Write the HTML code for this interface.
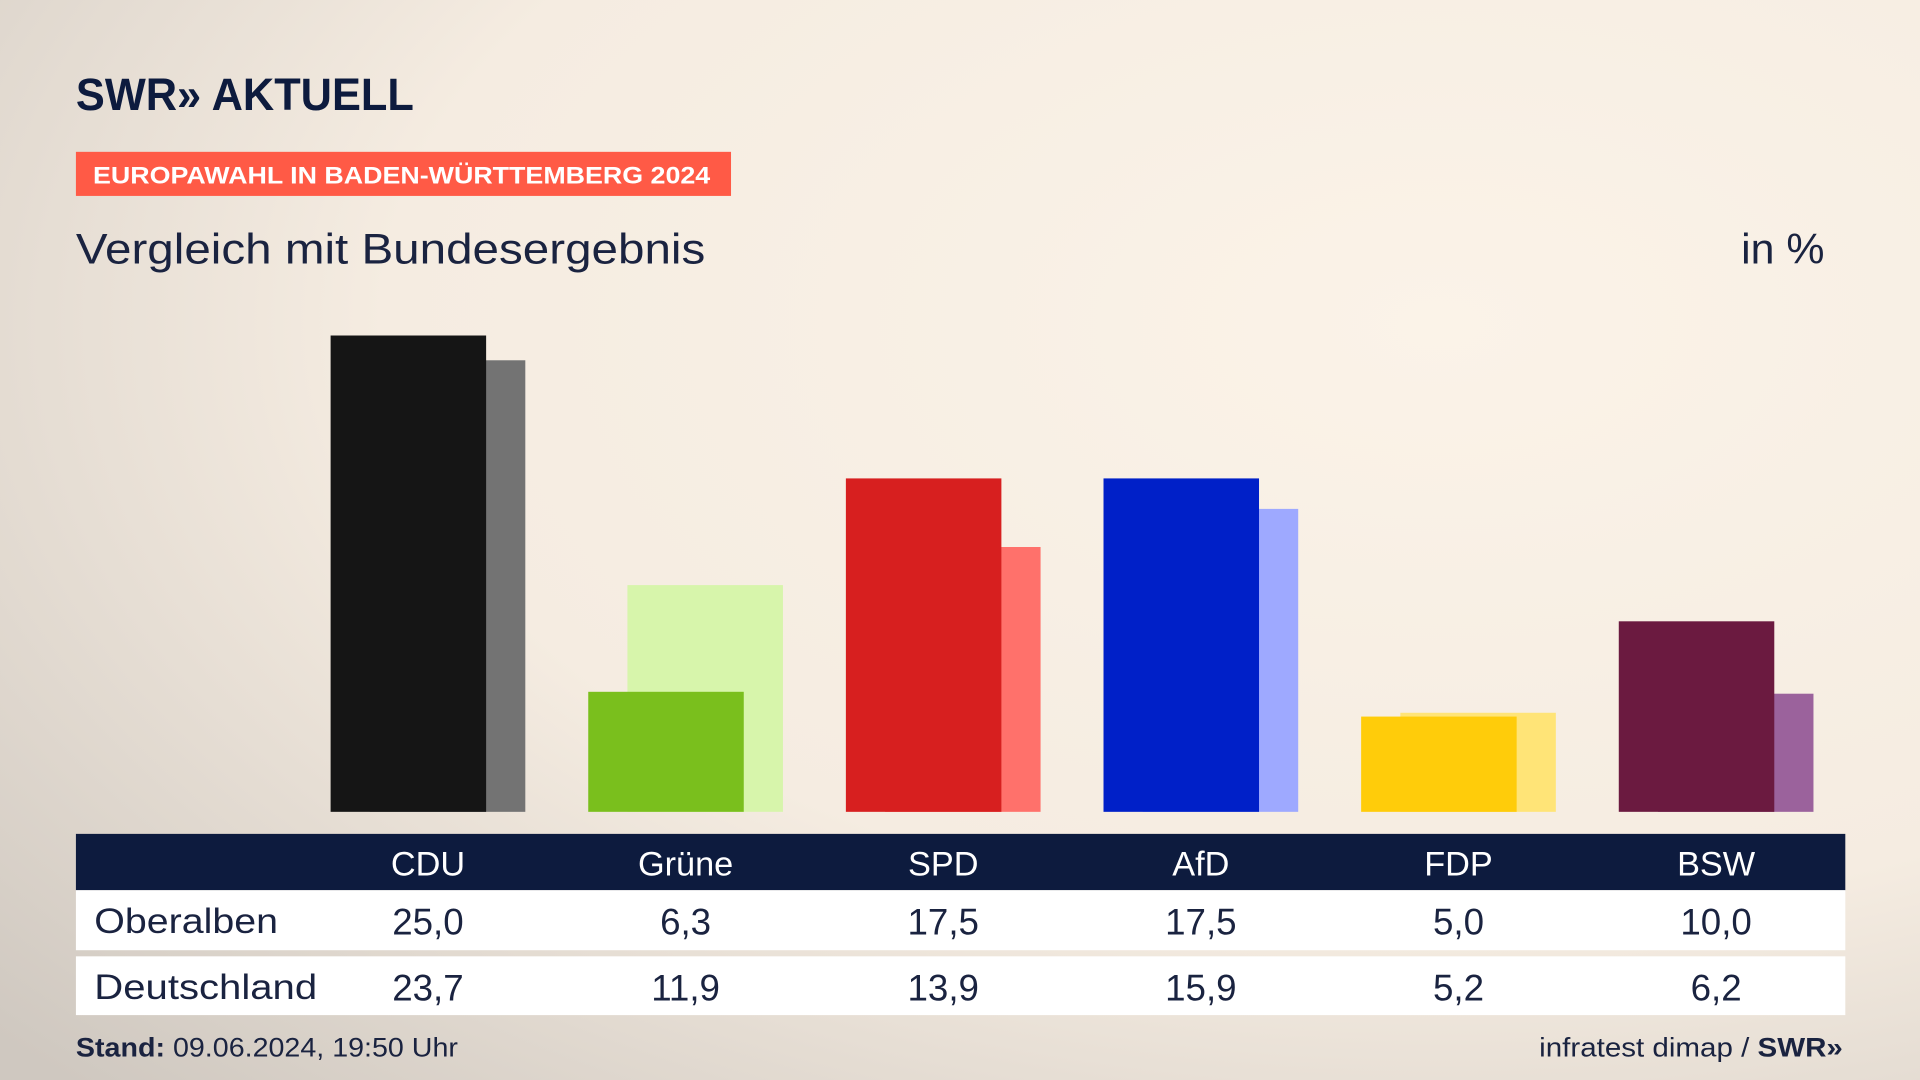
<!DOCTYPE html>
<html><head><meta charset="utf-8"><style>
html,body{margin:0;padding:0;width:1920px;height:1080px;overflow:hidden;}
svg{display:block;font-family:"Liberation Sans",sans-serif;}
</style></head><body>
<svg id="chart" width="1920" height="1080" viewBox="0 0 1568 882" preserveAspectRatio="none" xmlns="http://www.w3.org/2000/svg">
<defs>
<radialGradient id="bg" cx="0.75" cy="0.3" r="1.0">
<stop offset="0" stop-color="#fbf3e8"/><stop offset="0.55" stop-color="#f5ece1"/><stop offset="1" stop-color="#cfc8c0"/>
</radialGradient>
</defs>
<rect width="1568" height="882" fill="url(#bg)"/>
<text x="62" y="90" font-size="37" font-weight="bold" fill="#0d1b3e" textLength="276" lengthAdjust="spacingAndGlyphs">SWR» AKTUELL</text>
<rect x="62" y="124" width="535" height="36" fill="#ff5a46"/>
<text x="76" y="150" font-size="20" font-weight="bold" fill="#fff" textLength="504" lengthAdjust="spacingAndGlyphs">EUROPAWAHL IN BADEN-WÜRTTEMBERG 2024</text>
<text x="62" y="215" font-size="35" fill="#1a2340" textLength="514" lengthAdjust="spacingAndGlyphs">Vergleich mit Bundesergebnis</text>
<text x="1490" y="215" font-size="35" fill="#1a2340" text-anchor="end">in %</text>
<g id="bars"></g>
<rect x="62" y="681" width="1445" height="46" fill="#0d1b3e"/>
<rect x="62" y="727" width="1445" height="49" fill="#fff"/>
<rect x="62" y="781" width="1445" height="48" fill="#fff"/>
<text x="77" y="762" font-size="29" fill="#1a2340" textLength="150" lengthAdjust="spacingAndGlyphs">Oberalben</text>
<text x="77" y="816" font-size="29" fill="#1a2340" textLength="182" lengthAdjust="spacingAndGlyphs">Deutschland</text>
<g id="table"></g>
<text x="62" y="863" font-size="22" fill="#1a2340" textLength="312" lengthAdjust="spacingAndGlyphs"><tspan font-weight="bold">Stand:</tspan> 09.06.2024, 19:50 Uhr</text>
<text x="1257" y="863" font-size="22" fill="#1a2340" textLength="248" lengthAdjust="spacingAndGlyphs">infratest dimap / <tspan font-weight="bold">SWR»</tspan></text>
</svg>
<script>
const parties=["CDU","Grüne","SPD","AfD","FDP","BSW"];
const regional=[25.0,6.3,17.5,17.5,5.0,10.0];
const national=[23.7,11.9,13.9,15.9,5.2,6.2];
const mainColors=["#151515","#7abf1d","#d71f1f","#0020c8","#ffcc0a","#6b1a40"];
const lightColors=["#737373","#d7f5ab","#ff716b","#9ea9ff","#ffe477","#9b629c"];
const NS="http://www.w3.org/2000/svg";
const base=663, unit=389/25, x0=270, step=210.4, bw=127, off=32;
const y=v=>base-v*unit;
const fmt=v=>v.toFixed(1).replace(".",",");
const bars=document.getElementById("bars"), table=document.getElementById("table");
function mk(tag,attrs,parent){const e=document.createElementNS(NS,tag);for(const k in attrs)e.setAttribute(k,attrs[k]);parent.appendChild(e);return e;}
parties.forEach((p,i)=>{
  const x=x0+i*step;
  const b2=mk("rect",{x:x+off,y:y(national[i]),width:bw,height:base-y(national[i]),fill:lightColors[i]},bars);
  
  
  const b1=mk("rect",{x:x,y:y(regional[i]),width:bw,height:base-y(regional[i]),fill:mainColors[i]},bars);
  
  
  const cx=x+(bw+off)/2;
  const h=mk("text",{x:cx,y:715,"font-size":28,fill:"#fff","text-anchor":"middle"},table);h.textContent=p;
  
  
  const r1=mk("text",{x:cx,y:763,"font-size":30,fill:"#1a2340","text-anchor":"middle"},table);r1.textContent=fmt(regional[i]);
  
  
  const r2=mk("text",{x:cx,y:817,"font-size":30,fill:"#1a2340","text-anchor":"middle"},table);r2.textContent=fmt(national[i]);
  
  
});
</script>
</body></html>
